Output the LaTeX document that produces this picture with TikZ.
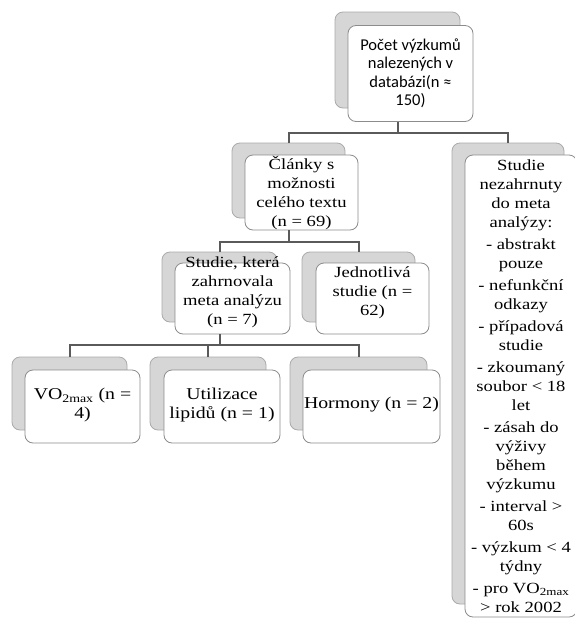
\documentclass[tikz,border=0pt]{standalone}
\usepackage{fontspec}
\setmainfont{Liberation Serif}[FakeStretch=1.2]
\newfontfamily\calib{Carlito}
\definecolor{backfill}{RGB}{214,214,214}
\definecolor{backdraw}{RGB}{170,170,170}
\definecolor{frontdraw}{RGB}{140,140,140}
\definecolor{connc}{RGB}{90,90,90}
\begin{document}
\begin{tikzpicture}[x=1pt,y=-1pt,
  backbox/.style={draw=backdraw,fill=backfill,rounded corners=8pt,line width=0.8pt,inner sep=0pt,outer sep=0pt},
  frontbox/.style={draw=frontdraw,fill=white,rounded corners=8pt,line width=0.8pt,inner sep=0pt,outer sep=0pt},
  txt/.style={align=center,inner sep=0pt,font=\fontsize{15.5}{19}\selectfont},
  bigtxt/.style={txt,font=\fontsize{16.5}{19}\selectfont},
  conn/.style={draw=connc,line width=2pt}]
\useasboundingbox (0,0) rectangle (574,619);
% top
\node[backbox,minimum width=125pt,minimum height=96pt] (b1) at (397.5,60) {};
\node[frontbox,minimum width=125pt,minimum height=96pt] (f1) at (410.5,73.5) {};
\node[txt,font=\calib\fontsize{16.5}{18.5}\selectfont] (t1) at (f1.center) {Počet výzkumů\\nalezených v\\databázi(n ≈\\150)};
% Clanky
\node[backbox,minimum width=113pt,minimum height=75pt] (b2) at (288.5,180.5) {};
\node[frontbox,minimum width=113pt,minimum height=75pt] (f2) at (301.5,192.5) {};
\node[txt] (t2) at (f2.center) {Články s\\možnosti\\celého textu\\(n = 69)};
% right column
\node[backbox,minimum width=112pt,minimum height=461pt] (b8) at (508,373.5) {};
\node[frontbox,minimum width=112pt,minimum height=462pt] (f8) at (521,386) {};
\node[txt] (t8) at (f8.center) {Studie\\nezahrnuty\\do meta\\analýzy:\\[3pt]
- abstrakt\\pouze\\[3pt]
- nefunkční\\odkazy\\[3pt]
- případová\\studie\\[3pt]
- zkoumaný\\soubor < 18\\let\\[3pt]
- zásah do\\výživy\\během\\výzkumu\\[3pt]
- interval >\\60s\\[3pt]
- výzkum < 4\\týdny\\[3pt]
- pro VO\textsubscript{2max}\\> rok 2002};
% Studie ktera
\node[backbox,minimum width=115pt,minimum height=70pt] (b3) at (219.5,287) {};
\node[frontbox,minimum width=115pt,minimum height=71pt] (f3) at (232.5,298.5) {};
\node[txt,yshift=6.5pt] (t3) at (f3.center) {Studie, která\\zahrnovala\\meta analýzu\\(n = 7)};
% Jednotliva
\node[backbox,minimum width=113pt,minimum height=70pt] (b4) at (358.5,287) {};
\node[frontbox,minimum width=113pt,minimum height=71pt] (f4) at (372.5,298.5) {};
\node[txt,yshift=6pt] (t4) at (f4.center) {Jednotlivá\\studie (n =\\62)};
% bottom row
\node[backbox,minimum width=115pt,minimum height=73pt] (b5) at (69.5,393.5) {};
\node[frontbox,minimum width=115pt,minimum height=73pt] (f5) at (82.5,406.5) {};
\node[bigtxt,yshift=1.5pt] (t5) at (f5.center) {VO\textsubscript{2max} (n =\\4)};
\node[backbox,minimum width=116pt,minimum height=73pt] (b6) at (208,393.5) {};
\node[frontbox,minimum width=116pt,minimum height=73pt] (f6) at (222,406.5) {};
\node[bigtxt,yshift=1pt] (t6) at (f6.center) {Utilizace\\lipidů (n = 1)};
\node[backbox,minimum width=137pt,minimum height=73pt] (b7) at (358.5,393.5) {};
\node[frontbox,minimum width=137pt,minimum height=73pt] (f7) at (371.5,406.5) {};
\node[bigtxt,yshift=1.5pt] (t7) at (f7.center) {Hormony (n = 2)};
% connectors
\coordinate (j1) at (b1.center |- 0,133);
\coordinate (j2) at (b2.center |- 0,242);
\coordinate (j3) at (b3.center |- 0,345);
\draw[conn] (b1.center |- f1.south) -- (j1);
\draw[conn] (j1) -| (b2.north);
\draw[conn] (j1) -| (b8.north);
\draw[conn] (b2.center |- f2.south) -- (j2);
\draw[conn] (j2) -| (b3.north);
\draw[conn] (j2) -| (b4.north);
\draw[conn] (b3.center |- f3.south) -- (j3);
\draw[conn] (j3) -| (b5.north);
\draw[conn] (j3) -| (b6.north);
\draw[conn] (j3) -| (b7.north);
\end{tikzpicture}
\end{document}
